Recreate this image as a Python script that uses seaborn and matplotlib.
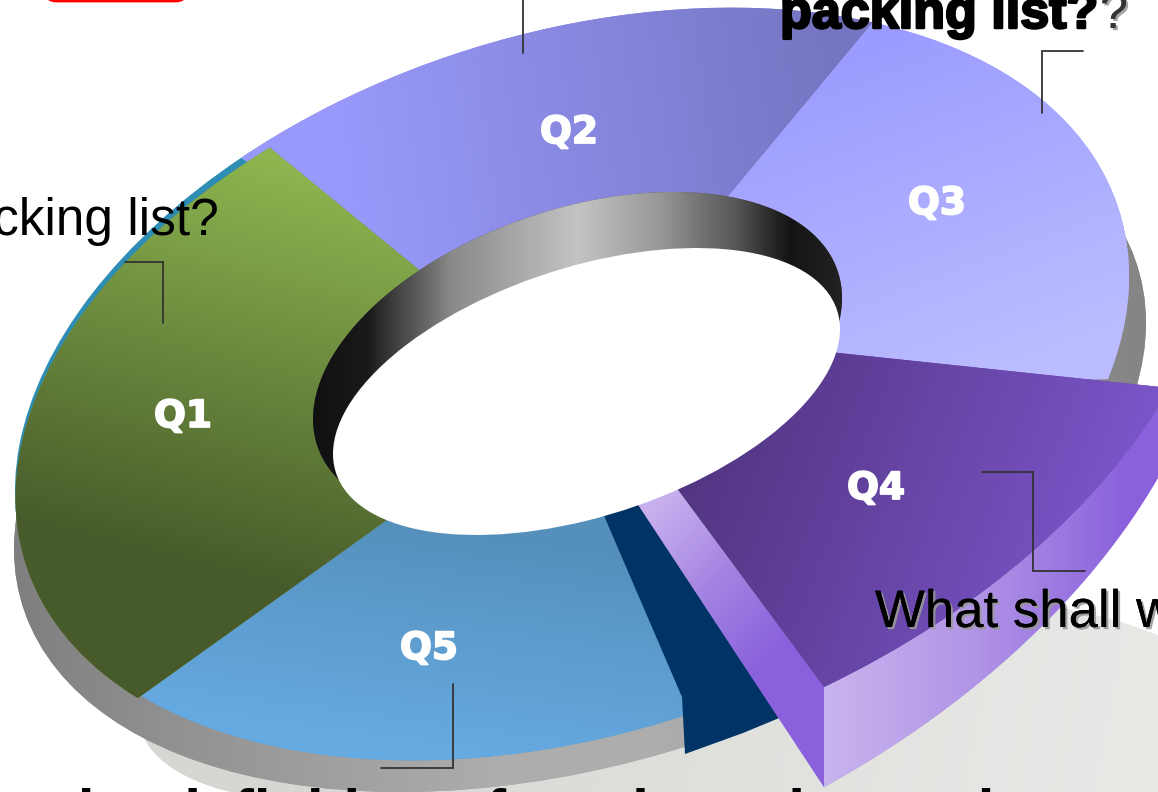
import numpy as np
import matplotlib
matplotlib.use('Agg')
import matplotlib.pyplot as plt
import matplotlib.patheffects as pe
from matplotlib.colors import LinearSegmentedColormap
from matplotlib.patches import Circle, Polygon, FancyBboxPatch, Ellipse, Wedge
from matplotlib.transforms import Affine2D
import seaborn as sns

# shares of the ring
questions = ['Q1', 'Q2', 'Q3', 'Q4', 'Q5']
shares = [26.75, 18.14, 20.33, 17.42, 17.36]
label_x = [183, 569, 937, 876, 429]
label_y = [417, 133, 204, 489, 649]

sns.set_theme(style='white')
plt.rcParams['font.family'] = ['Liberation Sans', 'DejaVu Sans']

fig = plt.figure(figsize=(11.58, 7.92), dpi=100)
ax = fig.add_axes([0, 0, 1, 1])


def ellipse_frame(cx, cy, a, b, deg):
    t = np.radians(deg)
    return Affine2D(np.array([[a * np.cos(t), -b * np.sin(t), cx],
                              [-a * np.sin(t), -b * np.cos(t), cy],
                              [0, 0, 1]]))


def box_frame(x0, x1, y0, y1, sxy):
    # ellipse given by its bounding box and its covariance term
    ex, ey = (x1 - x0) / 2, (y1 - y0) / 2
    low = np.linalg.cholesky(np.array([[ex ** 2, sxy], [sxy, ey ** 2]]))
    return Affine2D(np.array([[low[0, 0], low[0, 1], (x0 + x1) / 2],
                              [low[1, 0], low[1, 1], (y0 + y1) / 2],
                              [0, 0, 1]]))


def point_frame(apex, p1, p2, t1, t2):
    # wedge frame that sends the angles t1, t2 to the points p1, p2
    u = np.array([[np.cos(np.radians(t1)), np.cos(np.radians(t2))],
                  [np.sin(np.radians(t1)), np.sin(np.radians(t2))]])
    v = np.array([[p1[0] - apex[0], p2[0] - apex[0]],
                  [p1[1] - apex[1], p2[1] - apex[1]]])
    m = v @ np.linalg.inv(u)
    return Affine2D(np.array([[m[0, 0], m[0, 1], apex[0]],
                              [m[1, 0], m[1, 1], apex[1]],
                              [0, 0, 1]]))


xx, yy = np.meshgrid(np.arange(0, 1158, 2.0), np.arange(0, 792, 2.0))


def shade(patch, start, end, cmap, z):
    # linear gradient between two canvas points, clipped to the patch
    dx, dy = end[0] - start[0], end[1] - start[1]
    t = ((xx - start[0]) * dx + (yy - start[1]) * dy) / (dx ** 2 + dy ** 2)
    im = ax.imshow(np.clip(t, 0, 1), extent=(0, 1158, 792, 0), cmap=cmap, vmin=0, vmax=1,
                   aspect='auto', interpolation='bilinear', zorder=z)
    im.set_clip_path(patch)
    return im


def blend(*colors):
    return sns.blend_palette(colors, as_cmap=True)


main = ellipse_frame(572, 384, 574, 350, 17.7)

# ground shadow, two soft blobs
ax.add_patch(Ellipse((300, 720), 320, 160, fc='#d6d6d3', ec='none', zorder=1))
ground = Ellipse((760, 800), 1000, 390, angle=-8, fc='#e0e1dd', ec='none', zorder=1)
ax.add_patch(ground)
shade(ground, (300, 640), (1100, 790), blend('#d6d6d3', '#dfe0dc', '#e8e9e6'), 1)

# outer wall
wall = Circle((0, 0), 1, transform=box_frame(14, 1146, 80, 792, -64000) + ax.transData,
              fc='#a0a0a0', ec='none', zorder=2)
ax.add_patch(wall)
shade(wall, (14, 0), (1146, 0),
      blend('#7f7f7f', '#929292', '#a0a0a0', '#adadad', '#adadad', '#a0a0a0', '#909090', '#858585'), 2)

# the ring itself, clockwise from Q1
wedges, _ = ax.pie(shares, startangle=207.9, counterclock=False, radius=1, frame=True,
                   colors=['#6a8a3c', '#8888e0', '#aaaaff', '#6a48ae', '#5c9ccc'],
                   wedgeprops={'linewidth': 0})
q1, q2, q3, q4, q5 = wedges

# Q2 runs on a bit under Q1, and Q1 sits inside the rim on a slim teal edge
teal = Wedge((0, 0), 1, q1.theta1 + 3.8, q1.theta2, transform=main + ax.transData,
             fc='#2e8db5', ec='none', zorder=3)
ax.add_patch(teal)
q2.set_theta2(q2.theta2 + 3.8)
q5.set_theta2(q5.theta2 + 4)
for w in [q2, q3, q5]:
    w.set_transform(main + ax.transData)
    w.set_zorder(3)
q1.set_radius(0.99)
q1.set_transform(main + Affine2D().translate(-5, 7) + ax.transData)
q1.set_zorder(3.5)

shade(q1, (300, 170), (200, 570), blend('#8cb44f', '#475a2a'), 3.5)
shade(q2, (340, 130), (840, 60), blend('#9999fb', '#7575c2'), 3)
shade(q3, (880, 40), (1000, 360), blend('#9c9cff', '#bbbbff'), 3)
shade(q5, (470, 530), (440, 750), blend('#5590bb', '#66aae2'), 3)

# cut face under the pulled out slice
cut = Polygon([(600, 505), (650, 495), (784, 716), (743, 733), (685, 754), (682, 697), (605, 518)],
              fc='#003366', ec='none', zorder=4)
ax.add_patch(cut)

# Q4 pulled out, with a narrower swept arc and its own perspective
mid = (q4.theta1 + q4.theta2) / 2
half = (q4.theta2 - q4.theta1) / 2 * 0.686
q4.set_theta1(mid - half)
q4.set_theta2(mid + half)
q4_frame = point_frame((555, 323), (824, 687), (1170, 388), mid - half, mid + half)
q4.set_transform(q4_frame + ax.transData)
q4.set_zorder(6)
shade(q4, (700, 400), (1100, 550), blend('#513480', '#7a55c8'), 6)

# Q4 side faces
arc_t = np.radians(np.linspace(mid - half, mid + half, 60))
arc = q4_frame.transform(np.c_[np.cos(arc_t), np.sin(arc_t)])
drop = np.linspace(100, 68, 60)
side = Polygon(np.r_[arc, (arc + np.c_[np.zeros(60), drop])[::-1]], fc='#a080e0', ec='none', zorder=5)
ax.add_patch(side)
shade(side, (824, 0), (1130, 0), blend('#c8b4ee', '#b094e6', '#8a60dc'), 5)
cut_side = Polygon([(635, 500), (674, 485), (824, 687), (824, 787)], fc='#a080e0', ec='none', zorder=5.5)
ax.add_patch(cut_side)
shade(cut_side, (655, 505), (790, 640), blend('#c8b0ee', '#a484e2', '#8a60dc'), 5.5)

# hole: inner wall kept to the upper side of a chord, then white opening
ring_t = np.linspace(0, 2 * np.pi, 361)[:-1]
rim = box_frame(313, 842, 192, 525, -16000).transform(np.c_[np.cos(ring_t), np.sin(ring_t)])
keep = rim[:, 1] < 490 - 0.302 * (rim[:, 0] - 345)
first = np.flatnonzero(keep & ~np.roll(keep, 1))[0]
rim = np.roll(rim, -first, axis=0)[:keep.sum()]
inner = Polygon(rim, fc='#555555', ec='none', zorder=7)
ax.add_patch(inner)
wall_cmap = LinearSegmentedColormap.from_list('inner', [(0, '#101010'), (0.1, '#1a1a1a'), (0.26, '#8a8a8a'),
                                                        (0.5, '#c4c4c4'), (0.65, '#999999'), (0.8, '#555555'),
                                                        (0.9, '#141414'), (1, '#222222')])
shade(inner, (313, 0), (842, 0), wall_cmap, 7)
ax.add_patch(Circle((0, 0), 1, transform=box_frame(333, 840, 248, 535, -15800) + ax.transData,
                    fc='white', ec='none', zorder=8))

# red box cut by the top of the page
ax.add_patch(FancyBboxPatch((46, -30), 140, 31, boxstyle='round,pad=0,rounding_size=10',
                            fc='white', ec='#ff0000', lw=2.0, zorder=9))

# leader lines
leaders = [([125, 163, 163], [262, 262, 323]),
           ([523, 523], [0, 53]),
           ([1083, 1042, 1042], [51, 51, 113]),
           ([982, 1033, 1033, 1085], [472, 472, 571, 571]),
           ([453, 453, 381], [684, 768, 768])]
for lx, ly in leaders:
    ax.plot(lx, ly, color='#333333', lw=1.3, solid_joinstyle='miter', zorder=10)

for name, x, y in zip(questions, label_x, label_y):
    ax.text(x, y, name, color='white', fontsize=27, fontweight='bold', family='DejaVu Sans',
            ha='center', va='center', zorder=11,
            path_effects=[pe.withStroke(linewidth=1.3, foreground='white')])

shadow = [pe.withSimplePatchShadow(offset=(1.6, -1.6), shadow_rgbFace='#999999', alpha=0.9)]
ax.text(219, 235, 'packing list?', fontsize=37, color='black', ha='right', va='baseline', zorder=11)
ax.text(875, 627, 'What shall w', fontsize=38, color='black', ha='left', va='baseline', zorder=11,
        path_effects=shadow + [pe.Normal()])
ax.text(1100, 28, '?', fontsize=36, color='#333333', ha='left', va='baseline', zorder=11,
        path_effects=shadow + [pe.Normal()])
ax.text(780, 28, 'packing list?', fontsize=37.5, fontweight='bold', color='black', ha='left', va='baseline',
        zorder=11, path_effects=[pe.withStroke(linewidth=1.8, foreground='black')])
ax.text(58, 831, 'the definition of on the a the pack', fontsize=43, fontweight='bold', color='black',
        ha='left', va='baseline', zorder=11)

ax.set_aspect('auto')
ax.set_xlim(0, 1158)
ax.set_ylim(792, 0)
ax.axis('off')
fig.savefig('out.png', dpi=100)
